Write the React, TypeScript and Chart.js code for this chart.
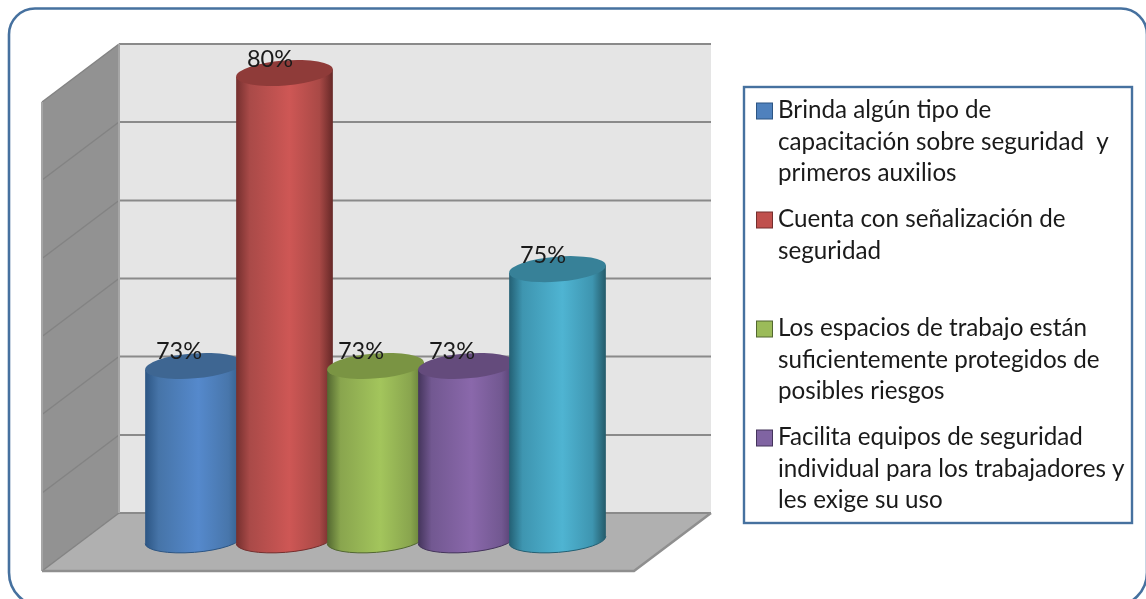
import React, { useEffect, useRef } from "react";
import { Chart, registerables } from "chart.js";

Chart.register(...registerables);

const categories = [
  "Brinda algún tipo de capacitación sobre seguridad y primeros auxilios",
  "Cuenta con señalización de seguridad",
  "Los espacios de trabajo están suficientemente protegidos de posibles riesgos",
  "Facilita equipos de seguridad individual para los trabajadores y les exige su uso",
  "",
];
const values = [73.13, 80, 73.13, 73.13, 75.4];
const gridTicks = [69, 70.83, 72.67, 74.5, 76.33, 78.17, 80];
const legendLines = [
  ["Brinda algún tipo de", "capacitación sobre seguridad  y", "primeros auxilios"],
  ["Cuenta con señalización de", "seguridad"],
  ["Los espacios de trabajo están", "suficientemente protegidos de", "posibles riesgos"],
  ["Facilita equipos de seguridad", "individual para los trabajadores y", "les exige su uso"],
];
const legendFirstBaselines = [118, 227, 336, 445];
const baseColors = ["#4f81bd", "#c0504d", "#9bbb59", "#8064a2", "#4bacc6"];
const shades = [
  { edgeL: "#2c5583", mid1: "#4674a8", light: "#5589cc", mid2: "#4876ab", edgeR: "#305b8a", top: "#3e6692" },
  { edgeL: "#742f2e", mid1: "#a94a48", light: "#ce5755", mid2: "#a94946", edgeR: "#652827", top: "#8f3b39" },
  { edgeL: "#526730", mid1: "#89a54e", light: "#a3c55c", mid2: "#89a54e", edgeR: "#5f7735", top: "#7a9443" },
  { edgeL: "#44345b", mid1: "#725891", light: "#8a68ab", mid2: "#725891", edgeR: "#503b6b", top: "#644b7c" },
  { edgeL: "#235f73", mid1: "#3e95b0", light: "#4fb4d2", mid2: "#3e95b0", edgeR: "#245a69", top: "#378198" },
];

const FONT = "Lato";
const TILT = (-4.5 * Math.PI) / 180;
const RY = 12.5;

const scenePlugin = {
  id: "scene",
  beforeDraw(chart: any) {
    const { ctx, chartArea, scales } = chart;
    const y = scales.y;
    const dx = 38.5;
    const dy = 29;
    const backL = chartArea.left - 29;
    const backR = chartArea.right + 108;
    const frontL = backL - 2 * dx;
    const frontR = backR - 2 * dx;
    const top = y.getPixelForValue(80) - dy;
    const bot = y.getPixelForValue(69) - dy;
    const fTop = top + 2 * dy;
    const fBot = bot + 2 * dy;

    ctx.save();
    // page background and outer rounded frame
    ctx.fillStyle = "#ffffff";
    ctx.fillRect(0, 0, chart.width, chart.height);
    ctx.beginPath();
    ctx.roundRect(9, 8.5, 1138, 598, [26, 26, 34, 34]);
    ctx.strokeStyle = "#46719f";
    ctx.lineWidth = 2.6;
    ctx.stroke();

    // back wall
    ctx.fillStyle = "#e5e5e5";
    ctx.fillRect(backL, top, backR - backL, bot - top);
    // side wall
    ctx.fillStyle = "#929292";
    ctx.beginPath();
    ctx.moveTo(frontL, fTop);
    ctx.lineTo(backL, top);
    ctx.lineTo(backL, bot);
    ctx.lineTo(frontL, fBot);
    ctx.closePath();
    ctx.fill();
    // floor
    ctx.fillStyle = "#b0b0b0";
    ctx.beginPath();
    ctx.moveTo(frontL, fBot);
    ctx.lineTo(backL, bot);
    ctx.lineTo(backR, bot);
    ctx.lineTo(frontR, fBot);
    ctx.closePath();
    ctx.fill();

    // grid lines from the value scale
    y.ticks.forEach((t: any) => {
      const py = y.getPixelForValue(t.value) - dy;
      ctx.strokeStyle = "#8a8a8a";
      ctx.lineWidth = 2;
      ctx.beginPath();
      ctx.moveTo(backL, py);
      ctx.lineTo(backR, py);
      ctx.stroke();
      ctx.strokeStyle = "#838383";
      ctx.lineWidth = 1.5;
      ctx.beginPath();
      ctx.moveTo(backL, py);
      ctx.lineTo(frontL, py + 2 * dy);
      ctx.stroke();
    });

    // edges
    ctx.strokeStyle = "#a6a6a6";
    ctx.lineWidth = 2;
    ctx.beginPath();
    ctx.moveTo(backL, top);
    ctx.lineTo(backL, bot);
    ctx.moveTo(frontL, fTop);
    ctx.lineTo(frontL, fBot);
    ctx.stroke();
    ctx.strokeStyle = "#8f8f8f";
    ctx.lineWidth = 2.5;
    ctx.beginPath();
    ctx.moveTo(frontL, fBot);
    ctx.lineTo(frontR, fBot);
    ctx.lineTo(backR, bot);
    ctx.stroke();
    ctx.restore();
  },
  beforeDatasetDraw(chart: any) {
    const { ctx } = chart;
    const meta = chart.getDatasetMeta(0);
    meta.data.forEach((bar: any, i: number) => {
      const s = shades[i];
      const rx = bar.width / 2;
      const cx = bar.x;
      const yTop = bar.y;
      const yBase = bar.base;
      const ox = rx * Math.cos(TILT);
      const oy = rx * Math.sin(TILT);
      const g = ctx.createLinearGradient(cx - rx, 0, cx + rx, 0);
      g.addColorStop(0, s.edgeL);
      g.addColorStop(0.14, s.mid1);
      g.addColorStop(0.55, s.light);
      g.addColorStop(0.86, s.mid2);
      g.addColorStop(1, s.edgeR);
      ctx.save();
      ctx.beginPath();
      ctx.moveTo(cx - ox, yTop - oy);
      ctx.lineTo(cx - ox, yBase - oy);
      ctx.ellipse(cx, yBase, rx, RY, TILT, Math.PI, 0, true);
      ctx.lineTo(cx + ox, yTop + oy);
      ctx.closePath();
      ctx.fillStyle = g;
      ctx.fill();
      ctx.beginPath();
      ctx.ellipse(cx, yBase, rx, RY, TILT, Math.PI, 0, true);
      ctx.strokeStyle = s.edgeL;
      ctx.lineWidth = 1;
      ctx.stroke();
      ctx.beginPath();
      ctx.ellipse(cx, yTop, rx, RY, TILT, 0, Math.PI * 2);
      ctx.fillStyle = s.top;
      ctx.fill();
      ctx.restore();
    });
    return false;
  },
  afterDatasetsDraw(chart: any) {
    const { ctx } = chart;
    const meta = chart.getDatasetMeta(0);
    ctx.save();
    ctx.font = `23.5px ${FONT}`;
    ctx.fillStyle = "#1a1a1a";
    ctx.textAlign = "center";
    ctx.textBaseline = "alphabetic";
    meta.data.forEach((bar: any, i: number) => {
      ctx.fillText(`${Math.round(values[i])}%`, bar.x - 14.5, bar.y - 6.5);
    });
    ctx.restore();
  },
  afterDraw(chart: any) {
    const { ctx } = chart;
    ctx.save();
    ctx.strokeStyle = "#46719f";
    ctx.lineWidth = 2.4;
    ctx.strokeRect(744, 87, 388, 436);
    ctx.font = `24.2px ${FONT}`;
    ctx.textAlign = "left";
    ctx.textBaseline = "alphabetic";
    legendLines.forEach((lines, i) => {
      const first = legendFirstBaselines[i];
      ctx.fillStyle = baseColors[i];
      ctx.fillRect(756.5, first - 15, 16, 16);
      ctx.strokeStyle = shades[i].edgeL;
      ctx.lineWidth = 1;
      ctx.strokeRect(756.5, first - 15, 16, 16);
      ctx.fillStyle = "#1a1a1a";
      lines.forEach((line, j) => ctx.fillText(line, 778, first + j * 31.5));
    });
    ctx.restore();
  },
};

export default function App() {
  const ref = useRef<HTMLCanvasElement>(null);
  useEffect(() => {
    document.body.style.margin = "0";
    document.body.style.overflow = "hidden";
    const chart = new Chart(ref.current!, {
      type: "bar",
      data: {
        labels: categories,
        datasets: [
          {
            data: values,
            backgroundColor: baseColors,
            base: 69.05,
            barPercentage: 97 / 91,
            categoryPercentage: 1,
            borderWidth: 0,
          },
        ],
      },
      options: {
        responsive: false,
        animation: false,
        clip: false,
        layout: { padding: { left: 148, right: 543, top: 73, bottom: 57 } },
        plugins: { legend: { display: false }, tooltip: { enabled: false }, title: { display: false } },
        scales: {
          x: { display: false },
          y: {
            display: false,
            min: 69,
            max: 80,
            afterBuildTicks: (scale: any) => {
              scale.ticks = gridTicks.map((value) => ({ value }));
            },
          },
        },
      },
      plugins: [scenePlugin],
    } as any);
    return () => chart.destroy();
  }, []);
  return (
    <canvas
      ref={ref}
      width={1146}
      height={599}
      style={{ display: "block", position: "fixed", left: 0, top: 0, width: 1146, height: 599, filter: "blur(0.5px)" }}
    />
  );
}
